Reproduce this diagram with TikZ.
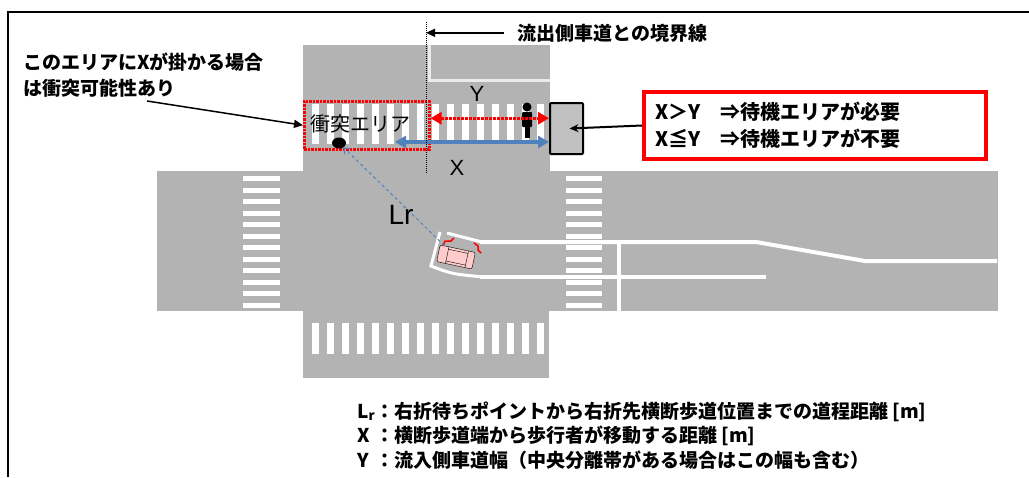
\documentclass[tikz,border=0pt]{standalone}
\usepackage{fontspec}
\setmainfont{Liberation Sans}
\newfontfamily\jp{Noto Sans CJK JP}
\usetikzlibrary{arrows.meta,shapes.geometric,calc}
\definecolor{roadgray}{RGB}{179,179,179}
\definecolor{boxgray}{RGB}{192,192,192}
\definecolor{lrblue}{RGB}{79,129,189}
\definecolor{carpink}{RGB}{255,204,204}

\begin{document}
\begin{tikzpicture}[x=1pt,y=-1pt,
	lane/.style={draw=white,line width=4pt},
	jpbold/.style={font=\jp\bfseries\fontsize{19}{26}\selectfont},
	tip/.style={-{Triangle[length=9pt,width=8pt]}},
	dbltip/.style={{Triangle[length=11pt,width=12pt]}-{Triangle[length=11pt,width=12pt]}}]
		%%%%% START %%%%%
		\useasboundingbox (0,0) rectangle (1029,477);
		
		% frame
		\draw[line width=2pt] (8,477) -- (8,12) -- (1029,12);
		
		% roads
		\fill[roadgray] (303,45) rectangle (550,172);
		\fill[roadgray] (157,171) rectangle (998,311);
		\fill[roadgray] (303,310) rectangle (549,378);
		\draw[white!92!black,line width=3pt] (429,45) -- (429,80) -- (550,80);
		
		% crossings
		\foreach \i in {0,...,15} {
			\fill[white] (312+15*\i,104) rectangle ++(7,40);
			\fill[white] (312+15*\i,323) rectangle ++(7,31);
		}
		\foreach \j in {0,...,11} {
			\fill[white] (243,176+11.5*\j) rectangle ++(37,5);
			\fill[white] (566,176+11.5*\j) rectangle ++(36,5);
		}
		
		% lanes of the east arm
		\draw[lane] (480,242) -- (756,242) -- (865,261) -- (997,261);
		\draw[lane] (480,277) -- (766,277);
		\draw[lane] (619,244) -- (619,311);
		\draw[white,line width=3pt] (447,233) -- (482,242);
		\draw[white,line width=3pt] (440,232) -- (431,266) .. controls (452,274) .. (484,277);
		
		% car
		\node[draw,fill=carpink,rotate=-12,minimum width=36pt,minimum height=17pt,
			rounded corners=2pt,inner sep=0] (car) at (456,257) {};
		\begin{scope}[shift={(456,257)},rotate=-12]
			\draw (-9,-8.5) -- (-9,8.5);
			\draw (11,-8.5) -- (11,8.5);
			\draw (-9,-6) -- (11,-6);
			\draw (-9,6) -- (11,6);
		\end{scope}
		\draw[red,line width=1.5pt] (443,246) -- (445,241) -- (451,241) -- (454,238);
		\draw[red,line width=1.5pt] (474,243) -- (478,246) -- (478,250) -- (481,253);
		
		% collision area
		\node[draw=red,densely dotted,line width=2.5pt,minimum width=125pt,minimum height=48pt,
			anchor=north west,inner sep=0] (area) at (303,100) {};
		\node[font=\jp\fontsize{20}{24}\selectfont] (arealabel) at (360,124) {衝突エリア};
		\node[fill=black,ellipse,minimum width=14pt,minimum height=11pt,inner sep=0] (dot) at (339,143) {};
		\draw[lrblue,dashed,line width=1pt,-{Straight Barb[length=5pt,width=8pt]}] (car) -- (dot);
		\node[font=\fontsize{28}{30}\selectfont] (lr) at (401,215) {Lr};
		
		% pedestrian
		\fill (527,107) circle (4.5);
		\fill[rounded corners=1pt] (522,112) rectangle (532,127);
		\fill (525,125) rectangle (530,138);
		
		% waiting place
		\node[draw,fill=boxgray,line width=2pt,rounded corners=1pt,minimum width=33pt,
			minimum height=51pt,anchor=north west,inner sep=0] (wait) at (549,102) {};
		
		% X and Y
		\coordinate (xstart) at (395,142);
		\draw[red,densely dotted,line width=3pt,dbltip] ([yshift=7pt]area.east) -- ([yshift=7pt]area.east -| wait.west);
		\draw[lrblue,line width=3.5pt,dbltip] (xstart) -- (xstart -| wait.west);
		\node[font=\fontsize{22}{24}\selectfont] (ylabel) at (477,94) {Y};
		\node[font=\fontsize{22}{24}\selectfont] (xlabel) at (457,168) {X};
		
		% boundary line
		\coordinate (btop) at (426,22);
		\coordinate (bbot) at (426,173);
		\draw[densely dotted,line width=1pt] (btop) -- (bbot);
		\node[jpbold,anchor=base west,inner sep=0] (bnd) at (517,40) {流出側車道との境界線};
		\draw[tip,line width=1.5pt] ([xshift=-13pt]bnd.west) -- (bnd.west -| btop);
		
		% note
		\node[jpbold,anchor=base west,align=left,inner sep=0] (note) at (23,95)
			{このエリアにXが掛かる場合\\は衝突可能性あり};
		\coordinate (notetip) at (147,101);
		\draw[tip,line width=1.5pt] (notetip) -- (area.west);
		
		% rule box
		\node[draw=red,line width=4pt,minimum width=342pt,minimum height=67pt,text width=320pt,
			align=left,inner xsep=11pt,font=\jp\bfseries\fontsize{20}{27}\selectfont] (rule) at (815,125.5)
			{X＞Y　⇒待機エリアが必要\\X≦Y　⇒待機エリアが不要};
		\draw[line width=2pt,-{Stealth[length=9pt,width=8pt]}] (rule.west) -- ([xshift=3pt]wait.center);
		
		% legend
		\node[anchor=base west,inner sep=0,font=\jp\bfseries\fontsize{19}{24.5}\selectfont] (legend) at (357,418)
			{\begin{tabular}[t]{@{}l@{}l@{}}
				L\textsubscript{r}&：右折待ちポイントから右折先横断歩道位置までの道程距離 [m]\\
				X&：横断歩道端から歩行者が移動する距離 [m]\\
				Y&：流入側車道幅（中央分離帯がある場合はこの幅も含む）
			\end{tabular}};
		%%%%% END %%%%%
\end{tikzpicture}
\end{document}
